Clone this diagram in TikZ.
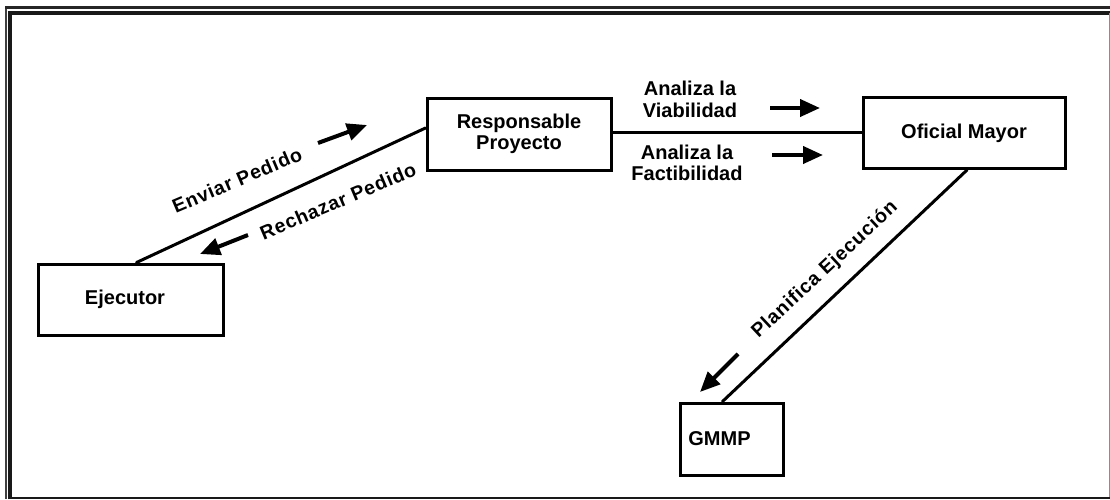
\documentclass[tikz,border=0pt]{standalone}
\usepackage{fontspec}
\setmainfont{Liberation Sans}
\usetikzlibrary{arrows.meta,calc}
\begin{document}
\begin{tikzpicture}[x=1pt,y=-1pt,
  txt/.style={font=\bfseries\fontsize{20}{21.5}\selectfont, align=center},
  slant/.style={font=\bfseries\fontsize{19.5}{21}\selectfont\addfontfeature{LetterSpace=4}},
  box/.style={draw, line width=3pt, inner sep=0pt, txt},
  link/.style={line width=3pt, line cap=round},
  flow/.style={line width=4pt, -{Triangle[length=20pt,width=17pt]}},
]
\useasboundingbox (0,0) rectangle (1110,499);

% double frame
\draw[black!75, line width=2pt] (6,499) -- (6,6);
\draw[black!85, line width=3pt] (5,7.5) -- (1110,7.5);
\draw[black!90, line width=3.5pt] (10,499) -- (10,13.2) -- (1110,13.2);
\draw[black!90, line width=2.5pt] (10,498) -- (1110,498);
\draw[black!45, line width=1pt] (1109.5,13) -- (1109.5,497);

% actors (the first and last labels sit a little left of centre)
\node[box, minimum width=185pt, minimum height=71pt] (ej) at (130.5,299.5) {\hspace*{-11pt}Ejecutor};
\node[box, minimum width=184pt, minimum height=72pt] (rp) at (519,134) {Responsable\\Proyecto};
\node[box, minimum width=202pt, minimum height=71pt] (om) at (964,133) {Oficial Mayor};
\node[box, minimum width=103pt, minimum height=72pt] (gm) at (731.5,439) {\hspace*{-24pt}GMMP};

% relations
\draw[link] ($(ej.north)+(6,0)$) -- ($(rp.west)+(0,-6)$);
\draw[link] ($(rp.east)+(0,-1.5)$) -- ($(rp.east -| om.west)+(0,-1.5)$);
\draw[link] ($(om.south)+(3,0)$) -- ($(gm.north)+(-9,0)$);

% direction markers
\coordinate (e1) at (318,143); \coordinate (e2) at (367,125);
\coordinate (r1) at (248,235); \coordinate (r2) at (200,254);
\coordinate (v1) at (770,108); \coordinate (v2) at (820,108);
\coordinate (f1) at (772,155); \coordinate (f2) at (823,155);
\coordinate (p1) at (738,354); \coordinate (p2) at (700,392);
\draw[flow] (e1) -- (e2);
\draw[flow] (r1) -- (r2);
\draw[flow] (v1) -- (v2);
\draw[flow] (f1) -- (f2);
\draw[flow] (p1) -- (p2);

% labels
\node[slant, rotate=23] (lenv) at (237,180) {Enviar Pedido};
\node[slant, rotate=23] (lrec) at (338,201) {Rechazar Pedido};
\node[txt] (lvia) at (690,99.5) {Analiza la\\Viabilidad};
\node[txt] (lfac) at (687,163) {Analiza la\\Factibilidad};
\node[slant, rotate=43] (lpla) at (825,270) {Planifica Ejecución};
\end{tikzpicture}
\end{document}
